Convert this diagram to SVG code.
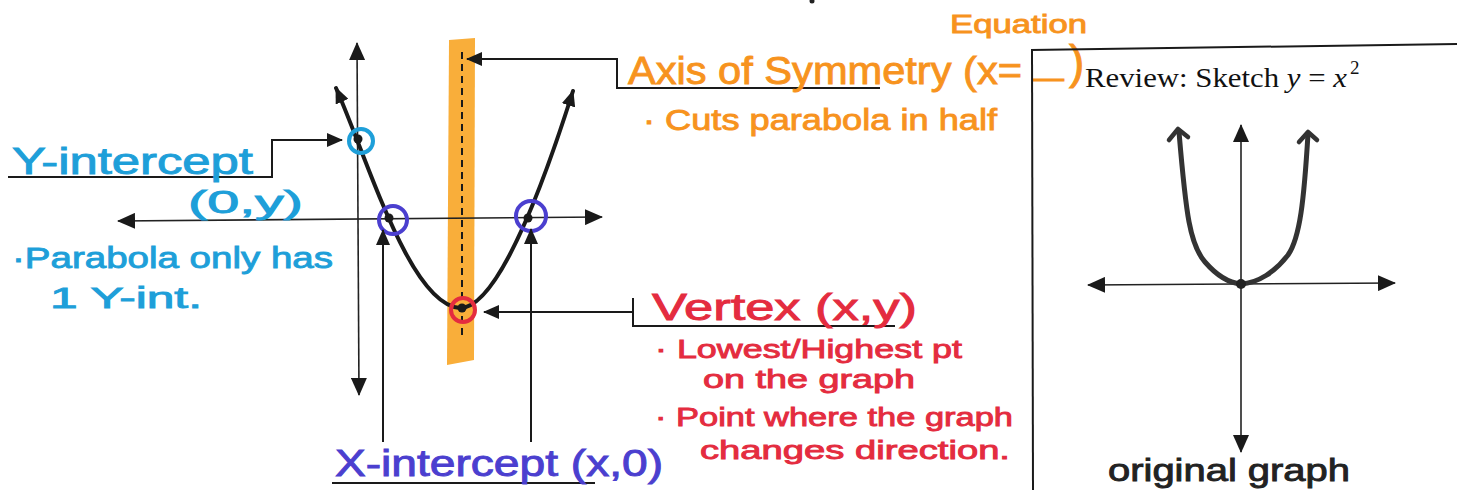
<svg xmlns="http://www.w3.org/2000/svg" width="1457" height="490" viewBox="0 0 1457 490">
<style>
.hand{font-family:"Liberation Sans",Arial,sans-serif;font-weight:normal;stroke-width:0.9;}
.cyan{fill:#1E9FD9;stroke:#1E9FD9;}
.orange{fill:#F7931E;stroke:#F7931E;}
.blue{fill:#4B3FCF;stroke:#4B3FCF;}
.red{fill:#E42C3F;stroke:#E42C3F;}
.blk{fill:#222;stroke:#222;}
.ln{stroke:#1a1a1a;stroke-width:2;fill:none;}
.axis{stroke:#222;stroke-width:1.6;fill:none;}
.curve{stroke:#1a1a1a;stroke-width:4;fill:none;stroke-linecap:round;}
.serif{font-family:"Liberation Serif","Times New Roman",serif;fill:#111;}
</style>
<defs>
<marker id="ah" markerUnits="userSpaceOnUse" markerWidth="18" markerHeight="16" refX="17" refY="8" orient="auto-start-reverse">
<path d="M0,0 L18,8 L0,16 Z" fill="#1a1a1a"/>
</marker>
<marker id="ahs" markerUnits="userSpaceOnUse" markerWidth="16" markerHeight="14" refX="15" refY="7" orient="auto-start-reverse">
<path d="M0,0 L16,7 L0,14 Z" fill="#1a1a1a"/>
</marker>
</defs>
<rect width="1457" height="490" fill="#ffffff"/>
<circle cx="812" cy="1" r="2.5" fill="#222"/>

<g id="main-graph">
<polygon points="449,40 475,38 474,360 447,365" fill="#F9AE3A"/>
<line x1="462" y1="52" x2="462" y2="340" stroke="#1a1a1a" stroke-width="2" stroke-dasharray="7,5"/>
<line class="axis" x1="359" y1="395" x2="357" y2="43" marker-start="url(#ah)" marker-end="url(#ah)"/>
<line class="axis" x1="118" y1="221" x2="602" y2="217" marker-start="url(#ah)" marker-end="url(#ah)"/>
<path class="curve" d="M336,88 C368,160 410,305 460,308 C500,308 548,170 573,91" marker-start="url(#ahs)" marker-end="url(#ahs)"/>
<circle cx="361" cy="141" r="12" fill="none" stroke="#1E9FD9" stroke-width="4"/>
<circle cx="393" cy="220" r="14" fill="none" stroke="#4B3FCF" stroke-width="4"/>
<circle cx="531" cy="216" r="15" fill="none" stroke="#4B3FCF" stroke-width="4"/>
<circle cx="463" cy="310" r="12" fill="none" stroke="#E42C3F" stroke-width="4"/>
<circle cx="358" cy="139" r="4.5" fill="#1a1a1a"/>
<circle cx="389" cy="218" r="4.5" fill="#1a1a1a"/>
<circle cx="528" cy="218" r="4.5" fill="#1a1a1a"/>
<circle cx="462" cy="308" r="4.5" fill="#1a1a1a"/>
</g>

<g id="connectors">
<polyline class="ln" points="8,177 272,177 272,140 342,140" marker-end="url(#ahs)"/>
<polyline class="ln" points="880,88 617,88 617,59 467,59" marker-end="url(#ahs)"/>
<polyline class="ln" points="895,326 633,326 633,298"/>
<line class="ln" x1="633" y1="312" x2="484" y2="312" marker-end="url(#ahs)"/>
<line class="ln" x1="383" y1="442" x2="383" y2="230" marker-end="url(#ahs)"/>
<line class="ln" x1="531" y1="442" x2="531" y2="229" marker-end="url(#ahs)"/>
<line class="ln" x1="332" y1="483" x2="595" y2="483"/>
</g>

<g id="y-intercept">
<text class="hand cyan" x="12" y="174" font-size="36" textLength="241" lengthAdjust="spacingAndGlyphs">Y-intercept</text>
<text class="hand cyan" x="188" y="213" font-size="32" textLength="115" lengthAdjust="spacingAndGlyphs">(0,y)</text>
<text class="hand cyan" x="12" y="268" font-size="30" textLength="321" lengthAdjust="spacingAndGlyphs">·Parabola only has</text>
<text class="hand cyan" x="50" y="308" font-size="30" textLength="152" lengthAdjust="spacingAndGlyphs">1 Y-int.</text>
</g>

<g id="axis-of-symmetry">
<text class="hand orange" x="950" y="33" font-size="26" textLength="137" lengthAdjust="spacingAndGlyphs">Equation</text>
<text class="hand orange" x="628" y="84" font-size="38" textLength="394" lengthAdjust="spacingAndGlyphs">Axis of Symmetry (x=</text>
<text class="hand orange" x="1033" y="88" font-size="30" font-weight="bold" textLength="31" lengthAdjust="spacingAndGlyphs">—</text>
<text class="hand orange" x="1069" y="78" font-size="46">)</text>
<text class="hand orange" x="643" y="130" font-size="30" textLength="354" lengthAdjust="spacingAndGlyphs">· Cuts parabola in half</text>
</g>

<g id="vertex">
<text class="hand red" x="652" y="320" font-size="36" textLength="265" lengthAdjust="spacingAndGlyphs">Vertex (x,y)</text>
<text class="hand red" x="655" y="358" font-size="26" textLength="307" lengthAdjust="spacingAndGlyphs">· Lowest/Highest pt</text>
<text class="hand red" x="703" y="388" font-size="26" textLength="212" lengthAdjust="spacingAndGlyphs">on the graph</text>
<text class="hand red" x="655" y="426" font-size="26" textLength="358" lengthAdjust="spacingAndGlyphs">· Point where the graph</text>
<text class="hand red" x="700" y="459" font-size="26" textLength="310" lengthAdjust="spacingAndGlyphs">changes direction.</text>
</g>

<g id="x-intercept">
<text class="hand blue" x="335" y="476" font-size="36" textLength="328" lengthAdjust="spacingAndGlyphs">X-intercept (x,0)</text>
</g>

<g id="review-box">
<line x1="1031" y1="50" x2="1457" y2="44" stroke="#1a1a1a" stroke-width="2"/>
<line x1="1032" y1="50" x2="1033" y2="490" stroke="#1a1a1a" stroke-width="2"/>
<text class="serif" x="1085" y="87" font-size="28" textLength="262" lengthAdjust="spacingAndGlyphs">Review: Sketch <tspan font-style="italic">y</tspan> = <tspan font-style="italic">x</tspan></text>
<text class="serif" x="1350" y="74" font-size="19">2</text>
<line class="axis" x1="1241" y1="452" x2="1241" y2="125" marker-start="url(#ah)" marker-end="url(#ah)"/>
<line class="axis" x1="1088" y1="285" x2="1395" y2="283" marker-start="url(#ah)" marker-end="url(#ah)"/>
<path d="M1179,132 C1186,215 1190,245 1205,262 C1218,277 1230,283 1241,284 C1258,283 1275,272 1288,255 C1300,238 1304,200 1308,134" stroke="#333" stroke-width="5" fill="none" stroke-linecap="round"/>
<polyline points="1169,140 1178,129 1188,137" stroke="#333" stroke-width="4.5" fill="none" stroke-linecap="round" stroke-linejoin="round"/>
<polyline points="1299,142 1308,132 1317,140" stroke="#333" stroke-width="4.5" fill="none" stroke-linecap="round" stroke-linejoin="round"/>
<circle cx="1241" cy="284" r="5" fill="#222"/>
<text class="hand blk" x="1108" y="481" font-size="32" textLength="242" lengthAdjust="spacingAndGlyphs">original graph</text>
</g>
</svg>
